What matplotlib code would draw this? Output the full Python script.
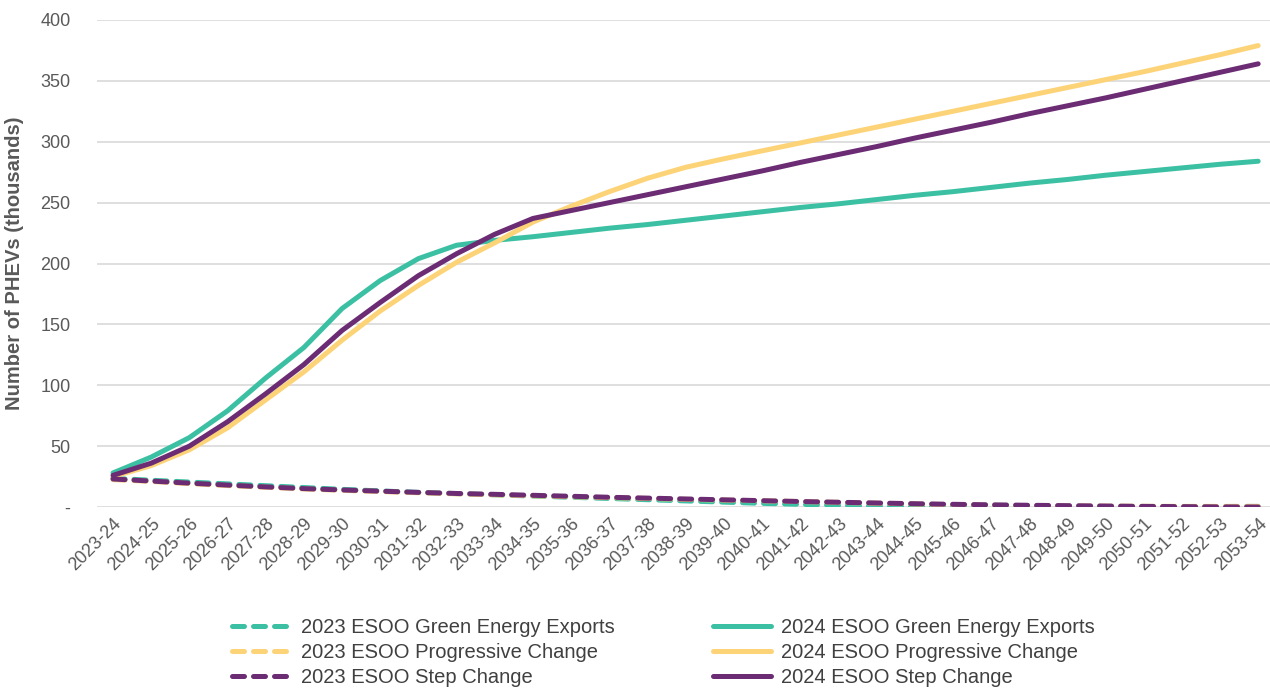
import matplotlib.pyplot as plt
import numpy as np

plt.rcParams['font.family'] = ['Liberation Sans', 'DejaVu Sans']

# Financial years shown on the category axis
years = [f"{y}-{str(y + 1)[2:]}" for y in range(2023, 2054)]

# PHEV numbers (thousands), 2023 ESOO scenarios
esoo23_green = [23.5, 22, 20.5, 19, 17.5, 16, 14.5, 13.2, 12, 11, 10,
                9, 8, 7, 6, 5, 4, 3, 2.2, 1.4, 0.8, 0.3, 0, 0, 0,
                0, 0.1, 0.2, 0.3, 0.4, 0.5]
esoo23_prog = [22.5, 21, 19.2, 17.6, 16.2, 14.8, 13.7, 12.7, 11.7, 10.8, 10,
               9.2, 8.4, 7.7, 7, 6.3, 5.7, 5.1, 4.5, 3.8, 3.1, 2.5, 1.9, 1.4, 1.1,
               0.9, 0.7, 0.6, 0.5, 0.5, 0.5]
esoo23_step = [23, 21.3, 19.6, 18, 16.5, 15.1, 14, 13, 12, 11.1, 10.4,
               9.6, 8.8, 8, 7.3, 6.6, 5.9, 5.2, 4.5, 3.9, 3.3, 2.7, 2.2, 1.8, 1.4,
               1.1, 0.8, 0.5, 0.3, 0.1, 0]

# PHEV numbers (thousands), 2024 ESOO scenarios
esoo24_green = [28, 41, 57, 79, 106, 131, 163, 186, 204, 215, 219,
                222, 225.5, 229, 232, 235.5, 239, 242.5, 246, 249, 252.5,
                256, 259, 262.5, 266, 269, 272.5, 275.5, 278.5, 281.5, 284]
esoo24_prog = [25, 34, 47, 65, 88, 111, 137, 161, 182, 201, 217,
               234, 247, 259, 270, 279, 286, 292.5, 299, 305.5, 312,
               318.5, 325, 331.5, 338, 344.5, 351, 357.5, 364.5, 371.5, 379]
esoo24_step = [26, 36, 50, 70, 93, 117, 145, 168, 190, 208, 224,
               237, 243.5, 250, 256.5, 263, 269.5, 276, 283, 289.5, 296,
               303, 309.5, 316, 323, 329.5, 336, 343, 350, 357, 364]

teal = '#3cc0a3'
gold = '#fdd378'
purple = '#6b2c74'
grey = '#595959'

fig = plt.figure(figsize=(12.7, 6.88), dpi=100)
ax = fig.add_axes([97 / 1270, 181 / 688, 1173 / 1270, 487 / 688])

x = np.arange(len(years))
dash = dict(lw=3.6, linestyle=(0, (2.4, 1.8)), dash_capstyle='round')
solid = dict(lw=3.6, solid_capstyle='round')

ax.plot(x, esoo23_green, color=teal, label='2023 ESOO Green Energy Exports', **dash)
ax.plot(x, esoo24_green, color=teal, label='2024 ESOO Green Energy Exports', **solid)
ax.plot(x, esoo23_prog, color=gold, label='2023 ESOO Progressive Change', **dash)
ax.plot(x, esoo24_prog, color=gold, label='2024 ESOO Progressive Change', **solid)
ax.plot(x, esoo23_step, color=purple, label='2023 ESOO Step Change', **dash)
ax.plot(x, esoo24_step, color=purple, label='2024 ESOO Step Change', **solid)

ax.set_xlim(-0.42, 30.31)
ax.set_ylim(0, 400)
yt = np.arange(0, 401, 50)
ax.set_yticks(yt)
ax.set_yticklabels(['-'] + [str(v) for v in yt[1:]])
ax.set_xticks(x)
ax.set_xticklabels(years, rotation=45, ha='right', rotation_mode='anchor')
ax.tick_params(axis='both', length=0, colors=grey, labelsize=13)
ax.tick_params(axis='y', pad=19)
ax.tick_params(axis='x', pad=6)
ax.grid(axis='y', color='#d9d9d9', lw=1.2)
ax.set_axisbelow(True)
for s in ax.spines.values():
    s.set_visible(False)

ax.set_ylabel('Number of PHEVs (thousands)', color=grey, fontsize=14.5,
              fontweight='bold')
ax.yaxis.set_label_coords(-0.062, 0.5)

# legend ordered by column: 2023 dashed on the left, 2024 solid on the right
h, l = ax.get_legend_handles_labels()
order = [0, 2, 4, 1, 3, 5]
fig.legend([h[i] for i in order], [l[i] for i in order], ncol=2,
           loc='upper left', bbox_to_anchor=(224 / 1270, 1 - 610 / 688),
           frameon=False, fontsize=14.5, handlelength=2.9, handletextpad=0.5,
           columnspacing=4.9, labelspacing=0.3, borderaxespad=0,
           labelcolor='#404040')

fig.savefig('out.png', dpi=100)
